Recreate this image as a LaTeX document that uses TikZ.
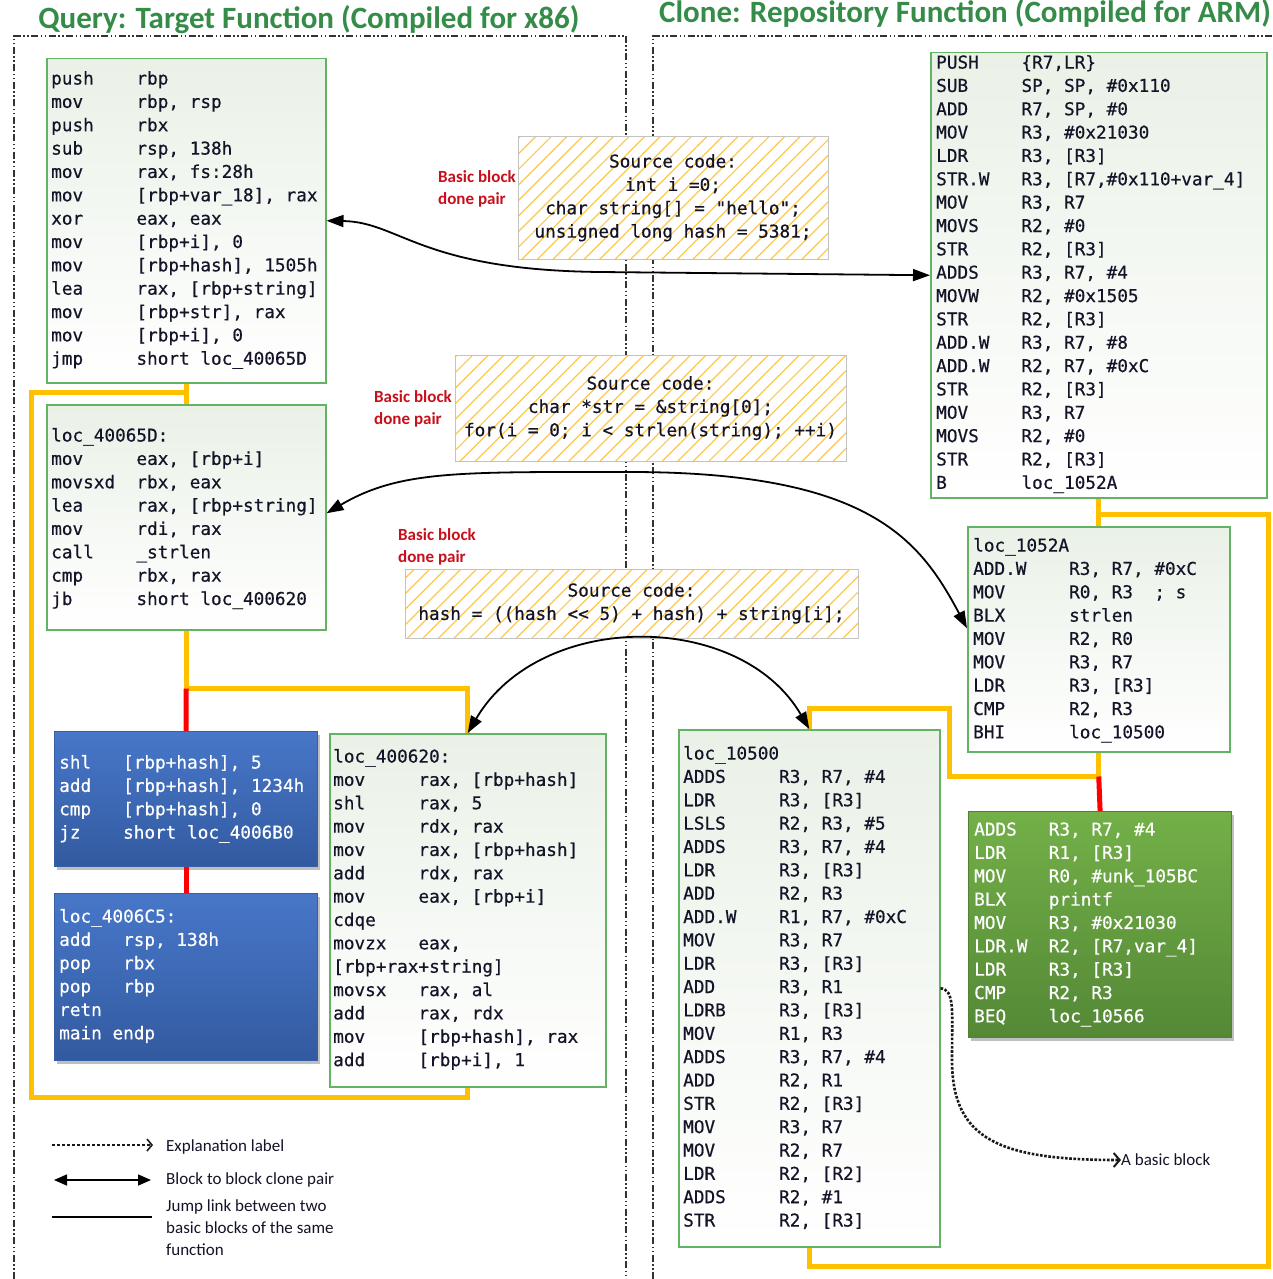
\documentclass[tikz,border=0pt]{standalone}
\usepackage{fontspec}
\setmainfont{Carlito}
\newfontfamily\codefont{DejaVu Sans Mono}[FakeBold=0.5]
\usetikzlibrary{arrows.meta,patterns.meta,shadows,calc}
\definecolor{codeink}{RGB}{20,20,40}
\definecolor{gborder}{RGB}{100,178,100}
\definecolor{gtop}{RGB}{234,241,231}
\definecolor{btop}{RGB}{72,119,201}
\definecolor{bbot}{RGB}{50,90,160}
\definecolor{bborder}{RGB}{55,95,165}
\definecolor{htop}{RGB}{115,176,72}
\definecolor{hbot}{RGB}{84,136,54}
\definecolor{hborder}{RGB}{80,130,50}
\definecolor{ygold}{RGB}{255,192,0}
\definecolor{jred}{RGB}{255,0,0}
\definecolor{titlegreen}{RGB}{52,140,72}
\definecolor{labelred}{RGB}{200,16,28}
\definecolor{hatch}{RGB}{255,200,70}
\definecolor{srcborder}{RGB}{195,195,195}
\newcommand\codesz{\codefont\fontsize{17.7pt}{23.35pt}\selectfont}
\newcommand\labsz{\fontsize{17pt}{22pt}\selectfont}
\newlength\codecw
\AtBeginDocument{\settowidth\codecw{\codesz 0}}
\newcommand\asm[3]{\strut\makebox[#1\codecw][l]{#2}#3}
\newcommand\asml[1]{\strut#1}
\tikzset{
  frame/.style={line width=1.5pt, black!80, dash pattern=on 7pt off 2.5pt on 1.5pt off 2.5pt on 1.5pt off 2.5pt},
  greenbox/.style={draw=gborder, line width=1.5pt, top color=gtop, bottom color=white, anchor=north west, inner sep=0pt},
  bluebox/.style={draw=bborder, line width=1.2pt, top color=btop, bottom color=bbot, anchor=north west, inner sep=0pt,
    drop shadow={shadow xshift=2pt, shadow yshift=-3pt, opacity=0.25, fill=black}},
  hbox/.style={draw=hborder, line width=1.2pt, top color=htop, bottom color=hbot, anchor=north west, inner sep=0pt,
    drop shadow={shadow xshift=2pt, shadow yshift=-3pt, opacity=0.25, fill=black}},
  srcbox/.style={draw=srcborder, line width=1.2pt, preaction={fill=white},
    pattern={Lines[angle=45,distance=11pt,line width=1.2pt]}, pattern color=hatch, anchor=north west, inner sep=0pt},
  code/.style={font=\codesz, align=left, inner sep=0pt, anchor=north west, text=codeink},
  wcode/.style={code, text=white},
  srctext/.style={font=\codesz, align=center, inner sep=0pt, anchor=north, text=codeink},
  redlab/.style={font=\labsz\bfseries, align=left, inner sep=0pt, anchor=north west, text=labelred},
  legtext/.style={font=\labsz, align=left, inner sep=0pt, anchor=west, text=codeink},
  title/.style={font=\fontsize{31pt}{34pt}\selectfont\bfseries, text=titlegreen, inner sep=0pt, anchor=base},
  jump/.style={draw=ygold, line width=5pt},
  redjump/.style={draw=jred, line width=5pt},
  clone/.style={line width=1.8pt, black, arrows={Triangle[length=17pt,width=12pt]-Triangle[length=17pt,width=12pt]}},
  expl/.style={line width=2.6pt, black!90, dash pattern=on 2.6pt off 1.6pt, arrows={-Straight Barb[length=6pt,width=14pt,line width=2pt]}},
}
\begin{document}
\begin{tikzpicture}[x=1pt,y=-1pt]
\useasboundingbox (0,0) rectangle (1273,1279);
\fill[white] (0,0) rectangle (1273,1279);

% titles
\node[title] (t1) at (309,29) {Query: Target Function (Compiled for x86)};
\node[title] (t2) at (965,23) {Clone: Repository Function (Compiled for ARM)};

% frames
\draw[frame] (14,1279) -- (14,36) -- (626,36) -- (626,1279);
\draw[frame] (653,1279) -- (653,36) -- (1273,36);

% boxes
\node[greenbox, minimum width=279pt, minimum height=324pt] (A) at (46,58) {};
\node[greenbox, minimum width=279pt, minimum height=225pt] (B) at (46,404) {};
\node[bluebox, minimum width=263pt, minimum height=135pt] (C) at (54,731) {};
\node[bluebox, minimum width=263pt, minimum height=167pt] (D) at (54,893) {};
\node[greenbox, minimum width=276pt, minimum height=353pt] (E) at (329,733) {};
\node[greenbox, minimum width=336pt, minimum height=445pt] (F) at (930,52) {};
\node[greenbox, minimum width=262pt, minimum height=225pt] (G) at (967,526) {};
\node[hbox, minimum width=263pt, minimum height=226pt] (H) at (968,811) {};
\node[greenbox, minimum width=261pt, minimum height=517pt] (I) at (678,729) {};
\node[srcbox, minimum width=310pt, minimum height=123pt] (S1) at (518,136) {};
\node[srcbox, minimum width=391pt, minimum height=106pt] (S2) at (455,355) {};
\node[srcbox, minimum width=453pt, minimum height=69pt] (S3) at (405,569) {};

% jump links (yellow / red)
\coordinate (jB) at ($(B.south)+(0,58)$);
\coordinate (jL1) at (31,392);
\coordinate (jL2) at (31,1097);
\coordinate (jG) at ($(G.south)+(0,24)$);
\coordinate (jR1) at (1268,514);
\coordinate (jR2) at (1268,1266);
\coordinate (jM) at (949,708);
\draw[jump] (A.south) -- (B.north);
\draw[jump] (E.south) |- (jL2) -- (jL1) -| (A.south);
\draw[jump] (B.south) -- (jB) -| (E.north);
\draw[redjump] (jB) -- (C.north);
\draw[redjump] (C.south) -- (D.north);
\draw[jump] (F.south) -- (G.north);
\draw[jump] (F.south |- jR1) -- (jR1) -- (jR2) -| (I.south);
\draw[jump] (G.south) -- (jG) -| (jM) -| (I.north);
\draw[redjump] (jG) -- (H.north);

% code texts
\node[code] (At) at (51,68) {%
\asm8{push}{rbp}\\
\asm8{mov}{rbp, rsp}\\
\asm8{push}{rbx}\\
\asm8{sub}{rsp, 138h}\\
\asm8{mov}{rax, fs:28h}\\
\asm8{mov}{[rbp+var\_18], rax}\\
\asm8{xor}{eax, eax}\\
\asm8{mov}{[rbp+i], 0}\\
\asm8{mov}{[rbp+hash], 1505h}\\
\asm8{lea}{rax, [rbp+string]}\\
\asm8{mov}{[rbp+str], rax}\\
\asm8{mov}{[rbp+i], 0}\\
\asm8{jmp}{short loc\_40065D}};

\node[code] (Bt) at (51,425) {%
\asml{loc\_40065D:}\\
\asm8{mov}{eax, [rbp+i]}\\
\asm8{movsxd}{rbx, eax}\\
\asm8{lea}{rax, [rbp+string]}\\
\asm8{mov}{rdi, rax}\\
\asm8{call}{\_strlen}\\
\asm8{cmp}{rbx, rax}\\
\asm8{jb}{short loc\_400620}};

\node[wcode] (Ct) at (59,752) {%
\asm6{shl}{[rbp+hash], 5}\\
\asm6{add}{[rbp+hash], 1234h}\\
\asm6{cmp}{[rbp+hash], 0}\\
\asm6{jz}{short loc\_4006B0}};

\node[wcode] (Dt) at (59,906) {%
\asml{loc\_4006C5:}\\
\asm6{add}{rsp, 138h}\\
\asm6{pop}{rbx}\\
\asm6{pop}{rbp}\\
\asml{retn}\\
\asml{main endp}};

\node[code] (Et) at (333,746) {%
\asml{loc\_400620:}\\
\asm8{mov}{rax, [rbp+hash]}\\
\asm8{shl}{rax, 5}\\
\asm8{mov}{rdx, rax}\\
\asm8{mov}{rax, [rbp+hash]}\\
\asm8{add}{rdx, rax}\\
\asm8{mov}{eax, [rbp+i]}\\
\asml{cdqe}\\
\asm8{movzx}{eax,}\\
\asml{[rbp+rax+string]}\\
\asm8{movsx}{rax, al}\\
\asm8{add}{rax, rdx}\\
\asm8{mov}{[rbp+hash], rax}\\
\asm8{add}{[rbp+i], 1}};

\node[code] (Ft) at (936,52) {%
\asm8{PUSH}{\{R7,LR\}}\\
\asm8{SUB}{SP, SP, \#0x110}\\
\asm8{ADD}{R7, SP, \#0}\\
\asm8{MOV}{R3, \#0x21030}\\
\asm8{LDR}{R3, [R3]}\\
\asm8{STR.W}{R3, [R7,\#0x110+var\_4]}\\
\asm8{MOV}{R3, R7}\\
\asm8{MOVS}{R2, \#0}\\
\asm8{STR}{R2, [R3]}\\
\asm8{ADDS}{R3, R7, \#4}\\
\asm8{MOVW}{R2, \#0x1505}\\
\asm8{STR}{R2, [R3]}\\
\asm8{ADD.W}{R3, R7, \#8}\\
\asm8{ADD.W}{R2, R7, \#0xC}\\
\asm8{STR}{R2, [R3]}\\
\asm8{MOV}{R3, R7}\\
\asm8{MOVS}{R2, \#0}\\
\asm8{STR}{R2, [R3]}\\
\asm8{B}{loc\_1052A}};

\node[code] (Gt) at (973,535) {%
\asml{loc\_1052A}\\
\asm9{ADD.W}{R3, R7, \#0xC}\\
\asm9{MOV}{R0, R3\ \ ; s}\\
\asm9{BLX}{strlen}\\
\asm9{MOV}{R2, R0}\\
\asm9{MOV}{R3, R7}\\
\asm9{LDR}{R3, [R3]}\\
\asm9{CMP}{R2, R3}\\
\asm9{BHI}{loc\_10500}};

\node[wcode] (Ht) at (974,819) {%
\asm7{ADDS}{R3, R7, \#4}\\
\asm7{LDR}{R1, [R3]}\\
\asm7{MOV}{R0, \#unk\_105BC}\\
\asm7{BLX}{printf}\\
\asm7{MOV}{R3, \#0x21030}\\
\asm7{LDR.W}{R2, [R7,var\_4]}\\
\asm7{LDR}{R3, [R3]}\\
\asm7{CMP}{R2, R3}\\
\asm7{BEQ}{loc\_10566}};

\node[code] (It) at (683,743) {%
\asml{loc\_10500}\\
\asm9{ADDS}{R3, R7, \#4}\\
\asm9{LDR}{R3, [R3]}\\
\asm9{LSLS}{R2, R3, \#5}\\
\asm9{ADDS}{R3, R7, \#4}\\
\asm9{LDR}{R3, [R3]}\\
\asm9{ADD}{R2, R3}\\
\asm9{ADD.W}{R1, R7, \#0xC}\\
\asm9{MOV}{R3, R7}\\
\asm9{LDR}{R3, [R3]}\\
\asm9{ADD}{R3, R1}\\
\asm9{LDRB}{R3, [R3]}\\
\asm9{MOV}{R1, R3}\\
\asm9{ADDS}{R3, R7, \#4}\\
\asm9{ADD}{R2, R1}\\
\asm9{STR}{R2, [R3]}\\
\asm9{MOV}{R3, R7}\\
\asm9{MOV}{R2, R7}\\
\asm9{LDR}{R2, [R2]}\\
\asm9{ADDS}{R2, \#1}\\
\asm9{STR}{R2, [R3]}};

% source code texts
\node[srctext] (S1t) at (673,151) {\strut Source code:\\\strut int i =0;\\\strut char string[] = "hello";\\\strut unsigned long hash = 5381;};
\node[srctext] (S2t) at (650.5,373) {\strut Source code:\\\strut char *str = \&string[0];\\\strut for(i = 0; i < strlen(string); ++i)};
\node[srctext] (S3t) at (631.5,580) {\strut Source code:\\\strut hash = ((hash << 5) + hash) + string[i];};

% red labels
\node[redlab] (L1) at (438,166.5) {\strut Basic block\\\strut done pair};
\node[redlab] (L2) at (374,386.5) {\strut Basic block\\\strut done pair};
\node[redlab] (L3) at (398,524.5) {\strut Basic block\\\strut done pair};

% clone pair arrows
\draw[clone] (A.east) .. controls (400,222) and (420,270) .. (600,272) -- (F.west);
\draw[clone] ([yshift=4pt]B.east) .. controls (400,470) and (460,472) .. (630,472) .. controls (870,472) and (920,540) .. ([yshift=11pt]G.west);
\draw[clone] (E.north) .. controls (540,610) and (740,610) .. (I.north);

% explanation arrow
\node[legtext] (ab) at (1121,1160) {A basic block};
\draw[expl] (I.east) .. controls (955,990) and (952,1010) .. (952,1060) .. controls (952,1140) and (1000,1160) .. (ab.west);

% legend
\coordinate (la1) at (52,1145);
\coordinate (lb1) at (153,1145);
\coordinate (la2) at (54,1180);
\coordinate (lb2) at (151,1180);
\coordinate (la3) at (52,1217);
\coordinate (lb3) at (152,1217);
\draw[line width=1.6pt, black!90, dash pattern=on 3pt off 2pt, arrows={-Straight Barb[length=5pt,width=12pt]}] (la1) -- (lb1);
\draw[clone, line width=1.6pt, arrows={Triangle[length=13pt,width=11pt]-Triangle[length=13pt,width=11pt]}] (la2) -- (lb2);
\draw[line width=1.4pt, black] (la3) -- (lb3);
\node[legtext] (lt1) at (166,1147) {Explanation label};
\node[legtext] (lt2) at (166,1180) {Block to block clone pair};
\node[legtext, anchor=north west] (lt3) at (166,1196) {\strut Jump link between two\\\strut basic blocks of the same\\\strut function};
\end{tikzpicture}
\end{document}
